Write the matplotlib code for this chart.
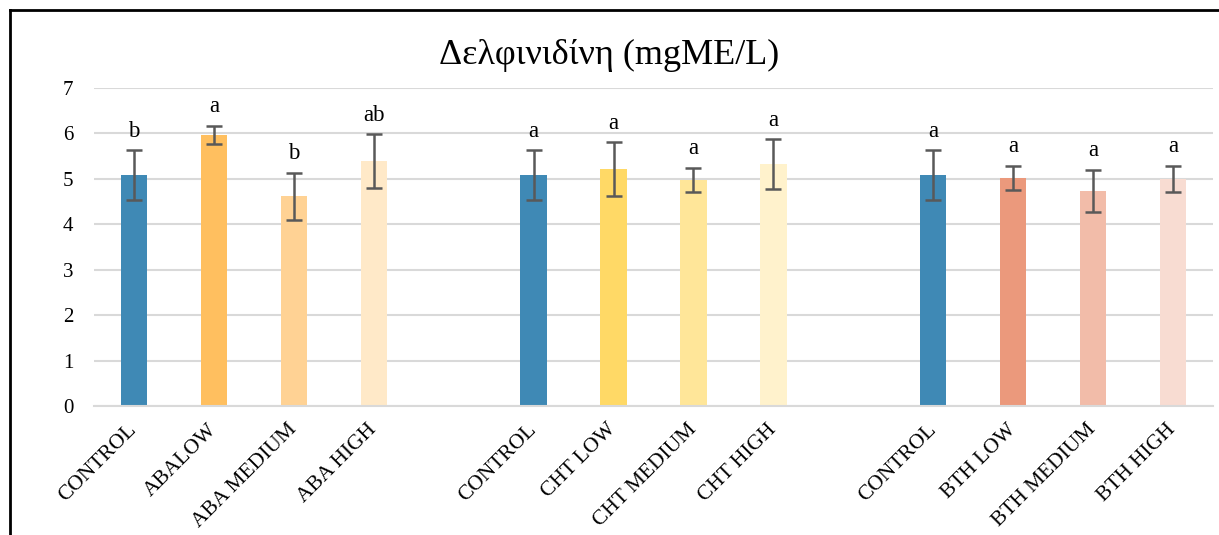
import matplotlib
matplotlib.use('Agg')
import matplotlib.pyplot as plt
import numpy as np

# data
labels = ['CONTROL', 'ABALOW', 'ABA MEDIUM', 'ABA HIGH',
          'CONTROL', 'CHT LOW', 'CHT MEDIUM', 'CHT HIGH',
          'CONTROL', 'BTH LOW', 'BTH MEDIUM', 'BTH HIGH']
aba_vals = [5.08, 5.97, 4.62, 5.39]
aba_err = [0.55, 0.20, 0.52, 0.60]
cht_vals = [5.08, 5.22, 4.98, 5.33]
cht_err = [0.55, 0.59, 0.27, 0.55]
bth_vals = [5.08, 5.02, 4.73, 5.00]
bth_err = [0.55, 0.27, 0.47, 0.29]
letters = ['b', 'a', 'b', 'ab', 'a', 'a', 'a', 'a', 'a', 'a', 'a', 'a']

colors = ['#3f89b5', '#ffbf5f', '#ffd294', '#ffe9c8',
          '#3f89b5', '#ffd966', '#ffe699', '#fff2cc',
          '#3f89b5', '#eb997c', '#f2bca9', '#f8dcd2']

plt.rcParams['font.family'] = ['Liberation Serif', 'DejaVu Serif']

vals = aba_vals + cht_vals + bth_vals
errs = aba_err + cht_err + bth_err
# one empty slot between groups
x = np.array([0, 1, 2, 3, 5, 6, 7, 8, 10, 11, 12, 13])

fig = plt.figure(figsize=(12.19, 5.35), dpi=100)
ax = fig.add_axes([0.0771, 0.2411, 0.9180, 0.5944])

ax.bar(x, vals, width=0.33, color=colors, zorder=2)
ax.errorbar(x, vals, yerr=errs, fmt='none', ecolor='#595959',
            elinewidth=1.8, capsize=6, capthick=1.8, zorder=3)

for xi, v, e, t in zip(x, vals, errs, letters):
    ax.annotate(t, (xi, v + e), xytext=(0, 6), textcoords='offset points',
                ha='center', va='bottom', fontsize=16.5)

ax.set_xlim(-0.5, 13.5)
ax.set_ylim(0, 7)
ax.set_yticks(range(0, 8))
ax.yaxis.grid(True, color='#d9d9d9', linewidth=1.5, zorder=0)
ax.set_axisbelow(True)
for s in ['left', 'right', 'top']:
    ax.spines[s].set_visible(False)
ax.spines['bottom'].set_color('#d9d9d9')
ax.spines['bottom'].set_linewidth(1.5)
ax.tick_params(axis='y', length=0, labelsize=15, pad=15)
ax.tick_params(axis='x', length=0, labelsize=15.5, pad=15)
ax.set_xticks(x)
ax.set_xticklabels(labels, rotation=45, ha='right', va='center', rotation_mode='anchor')

fig.text(0.5, 0.897, 'Δελφινιδίνη (mgME/L)', ha='center', va='center', fontsize=26)

# outer frame (only left and top edges visible in the crop)
fig.add_artist(plt.Line2D([0.0078, 0.0078], [0, 0.9813], transform=fig.transFigure,
                          color='black', linewidth=2))
fig.add_artist(plt.Line2D([0.0078, 1.0], [0.9813, 0.9813], transform=fig.transFigure,
                          color='black', linewidth=2))

fig.savefig('out.png', dpi=100)
